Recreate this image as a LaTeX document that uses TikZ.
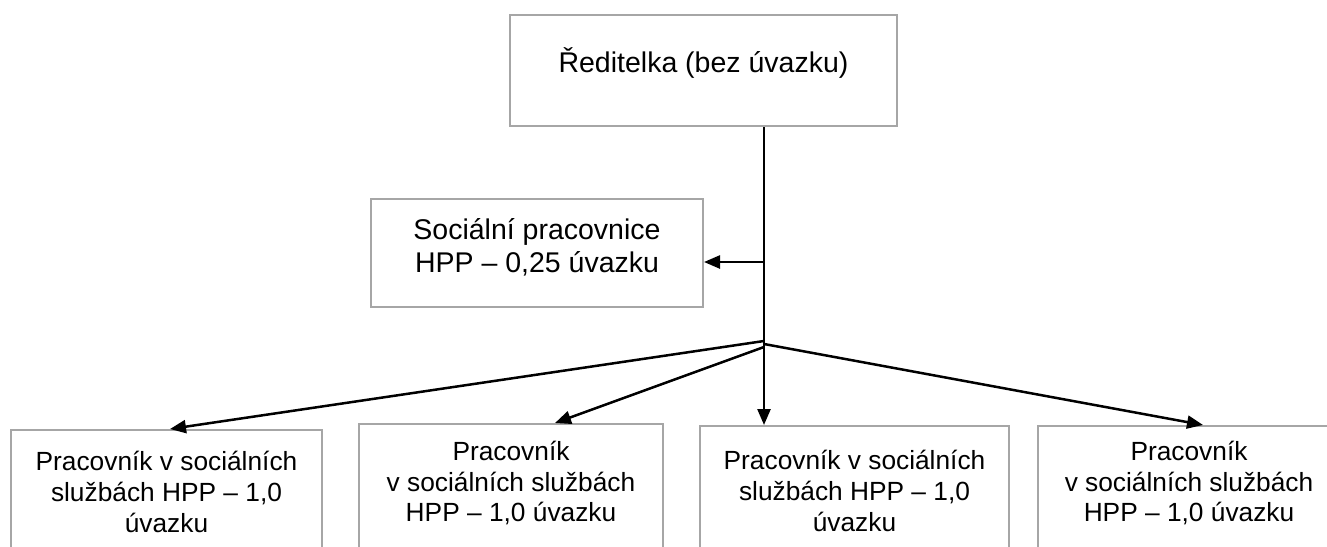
\documentclass[tikz,border=0pt]{standalone}
\usepackage{fontspec}
\setmainfont{Liberation Sans}
\usetikzlibrary{arrows.meta}
\definecolor{boxgray}{RGB}{166,166,166}
\begin{document}
\begin{tikzpicture}[x=1pt,y=-1pt,
  box/.style={draw=boxgray,line width=2pt,inner sep=0pt,rectangle},
  txt/.style={align=center,inner sep=0pt},
  big/.style={txt,font=\fontsize{28.5}{33.3}\selectfont},
  small/.style={txt,font=\fontsize{26.3}{30.8}\selectfont},
  arr/.style={line width=2.5pt,-{Triangle[length=16pt,width=13pt]}}]
\useasboundingbox (0,0) rectangle (1327,546);
\clip (0,0) rectangle (1327,546);
% boxes
\node[box,minimum width=387pt,minimum height=111pt] (tb) at (703.5,70.5) {};
\node[box,minimum width=332pt,minimum height=108pt] (mb) at (537,253) {};
\node[box,minimum width=311pt,minimum height=170pt] (b1) at (166.5,515) {};
\node[box,minimum width=304pt,minimum height=176pt] (b2) at (511,512) {};
\node[box,minimum width=309pt,minimum height=174pt] (b3) at (854.5,513) {};
\node[box,minimum width=302pt,minimum height=174pt] (b4) at (1189,513) {};
% texts
\node[big] (ttb) at (703.5,63) {Ředitelka (bez úvazku)};
\node[big] (tmb) at (537,247) {Sociální pracovnice\\HPP – 0,25 úvazku};
\node[small] (tb1) at (166.5,492) {Pracovník v sociálních\\službách HPP – 1,0\\úvazku};
\node[small] (tb2) at (511,483) {Pracovník\\v sociálních službách\\HPP – 1,0 úvazku};
\node[small] (tb3) at (854.5,491) {Pracovník v sociálních\\službách HPP – 1,0\\úvazku};
\node[small] (tb4) at (1189,483) {Pracovník\\v sociálních službách\\HPP – 1,0 úvazku};
% connectors
\coordinate (j) at (764,344);
\coordinate (j1) at (764,341);
\coordinate (j2) at (764,347);
\coordinate (m) at (764,262);
\draw[arr] (tb.south -| j) -- (b3.north -| j);
\draw[arr] (m) -- (m -| mb.east);
\draw[arr] (j1) -- (170,0 |- b1.north);
\draw[arr] (j2) -- (555,0 |- b2.north);
\draw[arr] (j) -- (1203,0 |- b4.north);
\end{tikzpicture}
\end{document}
